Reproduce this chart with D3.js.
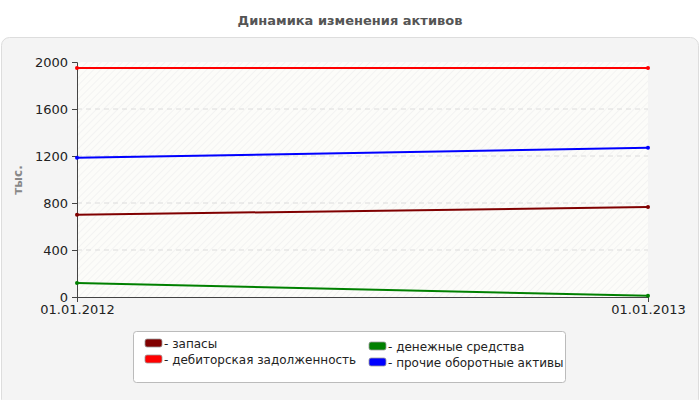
<!DOCTYPE html>
<html><head><meta charset="utf-8">
<script src="https://cdn.jsdelivr.net/npm/d3@7"></script>
<style>body{margin:0;background:#fff;font-family:"DejaVu Sans",Verdana,sans-serif;}</style>
</head><body>
<svg id="chart" width="700" height="400"></svg>
<script>
var dates = ["01.01.2012", "01.01.2013"];
var seriesNames = ["запасы", "дебиторская задолженность", "денежные средства", "прочие оборотные активы"];
var seriesColors = ["#800000", "#ff0000", "#008000", "#0000ff"];
var zapasy = [700, 765];
var debitor = [1950, 1950];
var dengi = [120, 10];
var prochie = [1185, 1270];
var yTicks = [0, 400, 800, 1200, 1600, 2000];

var allSeries = [zapasy, debitor, dengi, prochie];
var FONT = "DejaVu Sans, Verdana, sans-serif";

var svg = d3.select("#chart");

svg.append("text")
	.attr("x", 350).attr("y", 25)
	.attr("text-anchor", "middle")
	.attr("font-size", 13).attr("font-weight", "bold")
	.attr("fill", "#555").attr("font-family", FONT)
	.text("Динамика изменения активов");

// panel
svg.append("rect")
	.attr("x", 1.5).attr("y", 37.5).attr("width", 697).attr("height", 370)
	.attr("rx", 8)
	.attr("fill", "#f4f4f4").attr("stroke", "#ddd");

var defs = svg.append("defs");
var pat = defs.append("pattern")
	.attr("id", "hatch").attr("patternUnits", "userSpaceOnUse")
	.attr("width", 5).attr("height", 5)
	.attr("patternTransform", "rotate(45)");
pat.append("rect").attr("width", 5).attr("height", 5).attr("fill", "#fcfcf9");
pat.append("line").attr("x1", 0).attr("y1", 0).attr("x2", 0).attr("y2", 5)
	.attr("stroke", "#eeeeee").attr("stroke-width", 1.2);

var x = d3.scalePoint().domain(dates).range([77, 648]);
var y = d3.scaleLinear().domain([0, 2000]).range([297, 62]);

svg.append("rect")
	.attr("x", 77).attr("y", 62).attr("width", 571).attr("height", 235)
	.attr("fill", "url(#hatch)");

// grid
svg.append("g").selectAll("line").data(yTicks.slice(1, -1)).join("line")
	.attr("x1", 77).attr("x2", 648)
	.attr("y1", function(d){ return y(d); }).attr("y2", function(d){ return y(d); })
	.attr("stroke", "#dcdcdc").attr("stroke-dasharray", "5,4");

var yAxis = svg.append("g")
	.attr("transform", "translate(77,0)")
	.call(d3.axisLeft(y).tickValues(yTicks).tickSize(5).tickPadding(4).tickFormat(d3.format("d")));
var xAxis = svg.append("g")
	.attr("transform", "translate(0,297)")
	.call(d3.axisBottom(x).tickSize(5).tickPadding(3));
[yAxis, xAxis].forEach(function(a){
	a.selectAll("text").attr("font-size", 13).attr("fill", "#222")
		.attr("font-family", FONT);
	a.selectAll("line,path").attr("stroke", "#444");
});

svg.append("text")
	.attr("transform", "translate(22,180) rotate(-90)")
	.attr("text-anchor", "middle")
	.attr("font-size", 12).attr("font-weight", "bold").attr("fill", "#888")
	.attr("font-family", FONT)
	.text("тыс.");

var line = d3.line()
	.x(function(d, i){ return x(dates[i]); })
	.y(function(d){ return y(d); });

allSeries.forEach(function(s, k){
	svg.append("path").datum(s)
		.attr("d", line).attr("fill", "none")
		.attr("stroke", seriesColors[k]).attr("stroke-width", 2);
	svg.append("g").selectAll("circle").data(s).join("circle")
		.attr("cx", function(d, i){ return x(dates[i]); })
		.attr("cy", function(d){ return y(d); })
		.attr("r", 2).attr("fill", seriesColors[k]);
});

// legend
svg.append("rect")
	.attr("x", 133.5).attr("y", 331.5).attr("width", 432).attr("height", 51)
	.attr("rx", 3).attr("fill", "#fff").attr("stroke", "#bbb");
var legendPos = [[145, 344], [145, 360], [369, 347], [369, 363]];
seriesNames.forEach(function(name, k){
	var g = svg.append("g").attr("transform", "translate(" + legendPos[k][0] + "," + legendPos[k][1] + ")");
	g.append("rect").attr("x", 0).attr("y", -5).attr("width", 17).attr("height", 8)
		.attr("rx", 2).attr("fill", seriesColors[k]).attr("stroke", "#999").attr("stroke-width", 0.8);
	g.append("text").attr("x", 19).attr("y", 4)
		.attr("font-size", 12).attr("fill", "#222").attr("font-family", FONT)
		.text("- " + name);
});
</script>
</body></html>
